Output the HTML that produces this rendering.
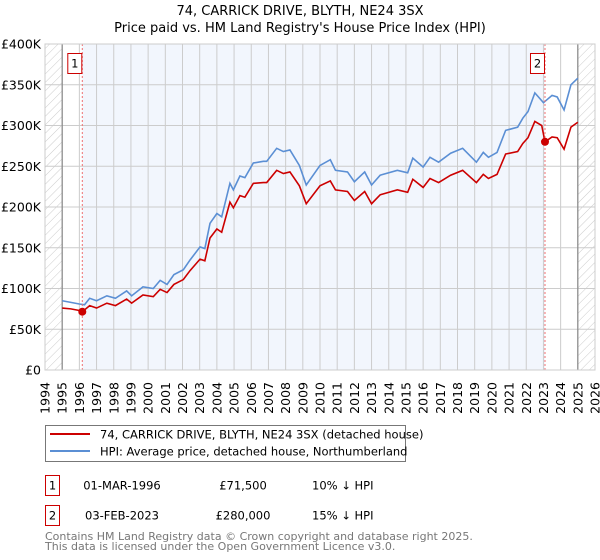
<!DOCTYPE html>
<html><head><meta charset="utf-8"><style>
body{margin:0;background:#fff;font-family:"Liberation Sans","DejaVu Sans",sans-serif;}
#wrap{position:relative;width:600px;height:560px;overflow:hidden}
svg text{font-family:"DejaVu Sans","Liberation Sans",sans-serif}
</style></head><body><div id="wrap">
<svg id="chart" width="600" height="560">
<defs><pattern id="hatch" width="6" height="6" patternUnits="userSpaceOnUse" patternTransform="rotate(45)"><line x1="0" y1="0" x2="0" y2="6" stroke="#ccc" stroke-width="1"/></pattern></defs>
<text x="300" y="15" text-anchor="middle" font-size="13">74, CARRICK DRIVE, BLYTH, NE24 3SX</text>
<text x="300" y="32" text-anchor="middle" font-size="13">Price paid vs. HM Land Registry's House Price Index (HPI)</text>
<g id="grid"></g><g id="series"></g><g id="annot"></g>
<g>
<rect x="45.5" y="425.5" width="360" height="36" fill="#fff" stroke="#777"/>
<line x1="50" y1="434" x2="90" y2="434" stroke="#cc0000" stroke-width="2"/>
<text x="100" y="438.5" font-size="11.5">74, CARRICK DRIVE, BLYTH, NE24 3SX (detached house)</text>
<line x1="50" y1="451" x2="90" y2="451" stroke="#5b8fd4" stroke-width="2"/>
<text x="100" y="455.5" font-size="11.5">HPI: Average price, detached house, Northumberland</text>
</g>
<g font-size="11.5">
<rect x="45.5" y="475.5" width="14" height="20" fill="#fff" stroke="#cc0000"/>
<text x="52.5" y="489.5" text-anchor="middle">1</text>
<text x="122" y="489.5" text-anchor="middle">01-MAR-1996</text>
<text x="243" y="489.5" text-anchor="middle">£71,500</text>
<text x="312" y="489.5">10% ↓ HPI</text>
<rect x="45.5" y="505.5" width="14" height="20" fill="#fff" stroke="#cc0000"/>
<text x="52.5" y="519.5" text-anchor="middle">2</text>
<text x="122" y="519.5" text-anchor="middle">03-FEB-2023</text>
<text x="243" y="519.5" text-anchor="middle">£280,000</text>
<text x="312" y="519.5">15% ↓ HPI</text>
</g>
<text x="45" y="540" font-size="11" fill="#777">Contains HM Land Registry data © Crown copyright and database right 2025.</text>
<text x="45" y="550" font-size="11" fill="#777">This data is licensed under the Open Government Licence v3.0.</text>
</svg></div>
<script>
const hpiYears=[1995.0,1995.5,1996.0,1996.3,1996.6,1997.0,1997.6,1998.1,1998.75,1999.04,1999.7,2000.3,2000.7,2001.1,2001.5,2002.05,2002.44,2003.02,2003.3,2003.6,2004.0,2004.28,2004.76,2004.96,2005.34,2005.63,2006.12,2006.7,2006.9,2007.48,2007.87,2008.25,2008.8,2009.2,2010.0,2010.6,2010.9,2011.6,2012.0,2012.6,2013.0,2013.5,2014.5,2015.1,2015.4,2016.0,2016.4,2016.9,2017.6,2018.3,2019.1,2019.5,2019.8,2020.3,2020.8,2021.5,2021.8,2022.1,2022.5,2023.0,2023.5,2023.8,2024.2,2024.6,2025.0];
const hpiValues=[85,83,81,80,88,85,91,88,97,91,102,100,110,105,117,123,135,151,149,180,192,188,229,221,238,236,254,256,256,272,268,270,251,227,251,258,245,243,231,243,227,239,245,242,260,249,261,255,266,272,255,267,261,267,294,298,309,317,340,328,337,335,319,350,358];
const priceYears=[1995.0,1995.5,1996.0,1996.17,1996.6,1997.0,1997.6,1998.1,1998.75,1999.04,1999.7,2000.3,2000.7,2001.1,2001.5,2002.05,2002.44,2003.02,2003.3,2003.6,2004.0,2004.28,2004.76,2004.96,2005.34,2005.63,2006.12,2006.7,2006.9,2007.48,2007.87,2008.25,2008.8,2009.2,2010.0,2010.6,2010.9,2011.6,2012.0,2012.6,2013.0,2013.5,2014.5,2015.1,2015.4,2016.0,2016.4,2016.9,2017.6,2018.3,2019.1,2019.5,2019.8,2020.3,2020.8,2021.5,2021.8,2022.1,2022.5,2022.9,2023.09,2023.5,2023.8,2024.2,2024.6,2025.0];
const priceValues=[76,75,73,71.5,79,76,82,79,87,82,92,90,99,95,105,111,122,136,134,162,173,169,206,199,214,212,229,230,230,245,241,243,226,204,226,232,221,219,208,219,204,215,221,218,234,224,235,230,239,245,230,240,235,240,265,268,278,285,305,300,280,286,285,271,298,304];
const saleYears=[1996.17,2023.09];
const saleValues=[71.5,280];
const yTicks=[0,50,100,150,200,250,300,350,400];
const yTickLabels=["£0","£50K","£100K","£150K","£200K","£250K","£300K","£350K","£400K"];
const xTicks=[1994,1995,1996,1997,1998,1999,2000,2001,2002,2003,2004,2005,2006,2007,2008,2009,2010,2011,2012,2013,2014,2015,2016,2017,2018,2019,2020,2021,2022,2023,2024,2025,2026];
const L=45,R=595,T=44,B=370,X0=1994,X1=2026,Y1=400;
const sx=v=>L+(v-X0)/(X1-X0)*(R-L);
const sy=v=>B-v/Y1*(B-T);
const NS="http://www.w3.org/2000/svg";
function mk(tag,attrs,parent){const e=document.createElementNS(NS,tag);for(const k in attrs)e.setAttribute(k,attrs[k]);parent.appendChild(e);return e;}
const grid=document.getElementById('grid'),series=document.getElementById('series'),annot=document.getElementById('annot');
const bg=mk('rect',{x:L,y:T,width:R-L,height:B-T,fill:'#fff'},grid);


const shade=mk('rect',{x:sx(saleYears[0]),y:T,width:sx(saleYears[1])-sx(saleYears[0]),height:B-T,fill:'#f2f6fd'},grid);


const h1=mk('rect',{x:sx(1994),y:T,width:sx(1995)-sx(1994),height:B-T,fill:'url(#hatch)'},grid);


const h2=mk('rect',{x:sx(2025),y:T,width:sx(2026)-sx(2025),height:B-T,fill:'url(#hatch)'},grid);


yTicks.forEach((v,i)=>{
 const g=mk('line',{x1:L,x2:R,y1:sy(v),y2:sy(v),stroke:'#ccc','stroke-width':1},grid);
 
 
 const t=mk('text',{x:L-4,y:sy(v)+4.5,'text-anchor':'end','font-size':12.5},grid);
 t.textContent=yTickLabels[i];
 
 
});
xTicks.forEach(v=>{
 const g=mk('line',{x1:sx(v),x2:sx(v),y1:T,y2:B,stroke:'#ccc','stroke-width':1},grid);
 
 
 const t=mk('text',{x:0,y:0,'text-anchor':'end','font-size':12.5,transform:`translate(${sx(v)+4.5},${B+12}) rotate(-90)`},grid);
 t.textContent=v;
 
 
});
[1995,2025].forEach(v=>{
 const l=mk('line',{x1:sx(v),x2:sx(v),y1:T,y2:B,stroke:'#888','stroke-width':1.2},grid);
 
 
});
const hp=mk('polyline',{points:hpiYears.map((y,i)=>sx(y)+','+sy(hpiValues[i])).join(' '),fill:'none',stroke:'#5b8fd4','stroke-width':1.6},series);


const pp=mk('polyline',{points:priceYears.map((y,i)=>sx(y)+','+sy(priceValues[i])).join(' '),fill:'none',stroke:'#cc0000','stroke-width':1.6},series);


saleYears.forEach((y,i)=>{
 const d=mk('line',{x1:sx(y),x2:sx(y),y1:T,y2:B,stroke:'#f07070','stroke-width':1,'stroke-dasharray':'2,2'},annot);
 
 
 const c=mk('circle',{cx:sx(y),cy:sy(saleValues[i]),r:4,fill:'#cc0000'},annot);
 
 
 const b=mk('rect',{x:sx(y)-14.5,y:53.5,width:14,height:20,fill:'#fff',stroke:'#cc0000'},annot);
 
 
 const t=mk('text',{x:sx(y)-7.5,y:67.5,'text-anchor':'middle','font-size':11.5},annot);
 t.textContent=String(i+1);
 
 
});
const fr=mk('rect',{x:L,y:T,width:R-L,height:B-T,fill:'none',stroke:'#ccc'},annot);


</script></body></html>
